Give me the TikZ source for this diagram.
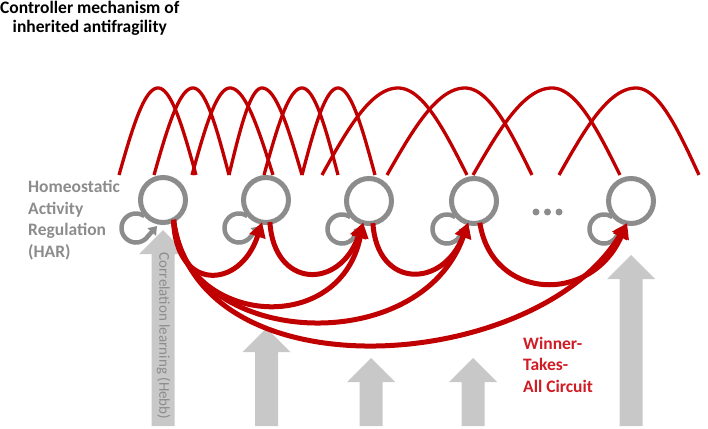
\documentclass[tikz,border=0pt]{standalone}
\usepackage{fontspec}
\setmainfont{Carlito}
\usetikzlibrary{arrows.meta}
\definecolor{wred}{RGB}{192,0,0}
\definecolor{tred}{RGB}{208,28,36}
\definecolor{cgray}{RGB}{140,140,140}
\definecolor{agray}{RGB}{200,200,200}
\definecolor{hgray}{RGB}{140,140,140}
\newcommand\wbump[3]{\draw[wave] plot[domain=-1:0,samples=30] ({#1+#2*\x},{175-87*cos(90*\x)}) -- plot[domain=0:1,samples=30] ({#1+#3*\x},{175-87*cos(90*\x)});}
\newcommand\blockarr[4]{\fill[agray] (#2-11.5,#4) -- (#2-11.5,#3+24) -- (#2-24,#3+24) -- (#2,#3) -- (#2+24,#3+24) -- (#2+11.5,#3+24) -- (#2+11.5,#4) -- cycle; \coordinate (#1) at (#2,#3);}
\newcommand\harloop[2]{\draw[har] plot[domain=55:325,samples=30] ({#1-27+14.5*cos(\x)},{#2+28-14.5*sin(\x)}) -- (#1-6,#2+26);}
\begin{document}
\begin{tikzpicture}[x=1pt,y=-1pt,
  neuron/.style={circle,draw=cgray,line width=5pt,fill=white,minimum size=45pt,inner sep=0pt,outer sep=0pt},
  wave/.style={wred,line width=3.3pt},
  wtaarrow/.style={wred,line width=5pt,-{Triangle[length=15pt,width=16pt]}},
  har/.style={cgray,line width=4.5pt,-{Triangle[length=8pt,width=11pt]}},
  lbl/.style={font=\bfseries\fontsize{17.5}{21.5}\selectfont,align=left,anchor=north west,inner sep=0pt}
]
\useasboundingbox (0,0) rectangle (708,428);
% input arrows
\blockarr{in1}{163}{230}{426}
\blockarr{in2}{266.5}{328}{426}
\blockarr{in3}{371}{358}{426}
\blockarr{in4}{473}{358}{426}
\blockarr{in5}{631}{255}{426}
\node[rotate=-90,text=hgray,font=\fontsize{15}{18}\selectfont,inner sep=0pt] (hebb) at (163.5,336) {Correlation learning (Hebb)};
% tuning curves
\wbump{158}{39}{38}
\wbump{193}{39}{36}
\wbump{230}{38}{43}
\wbump{262}{33}{40}
\wbump{302}{38}{36}
\wbump{338}{36}{37}
\wbump{398}{76}{69}
\wbump{465}{78}{67}
\wbump{552}{79}{68}
\wbump{636}{77}{63}
% self loops
\harloop{163}{200}
\harloop{266}{200}
\harloop{369}{201}
\harloop{474}{201}
\harloop{631}{201}
% neurons
\node[neuron] (n1) at (163,200) {};
\node[neuron] (n2) at (266,200) {};
\node[neuron] (n3) at (369,201) {};
\node[neuron] (n4) at (474,201) {};
\node[neuron] (n5) at (631,201) {};
\foreach \d in {536,547.5,559} \fill[cgray] (\d,212) circle[radius=3.5];
% winner-takes-all connections
\draw[wtaarrow] (n1.-62) .. controls +(2,72) and +(-22,68) .. (n2.-100);
\draw[wtaarrow] (n2.-80) .. controls +(4,66) and +(-24,68) .. (n3.-105);
\draw[wtaarrow] (n3.-80) .. controls +(4,66) and +(-25,66) .. (n4.-105);
\draw[wtaarrow] (n4.-75) .. controls +(12,78) and +(-36,82) .. (n5.-100);
\draw[wtaarrow] (n1.-62) .. controls +(6,104) and +(-24,118) .. (n3.-105);
\draw[wtaarrow] (n1.-62) .. controls +(11,128) and +(-48,138) .. (n4.-105);
\draw[wtaarrow] (n1.-62) .. controls +(24,178) and +(-90,150) .. (n5.-100);
% labels
\node[lbl,align=center,font=\bfseries\fontsize{17.5}{19.5}\selectfont] (title) at (0,1) {Controller mechanism of\\inherited antifragility};
\node[lbl,text=cgray] (har) at (28,180) {Homeostatic\\Activity\\Regulation\\(HAR)};
\node[lbl,text=tred] (wtalabel) at (523,337) {Winner-\\Takes-\\All Circuit};
\end{tikzpicture}
\end{document}
